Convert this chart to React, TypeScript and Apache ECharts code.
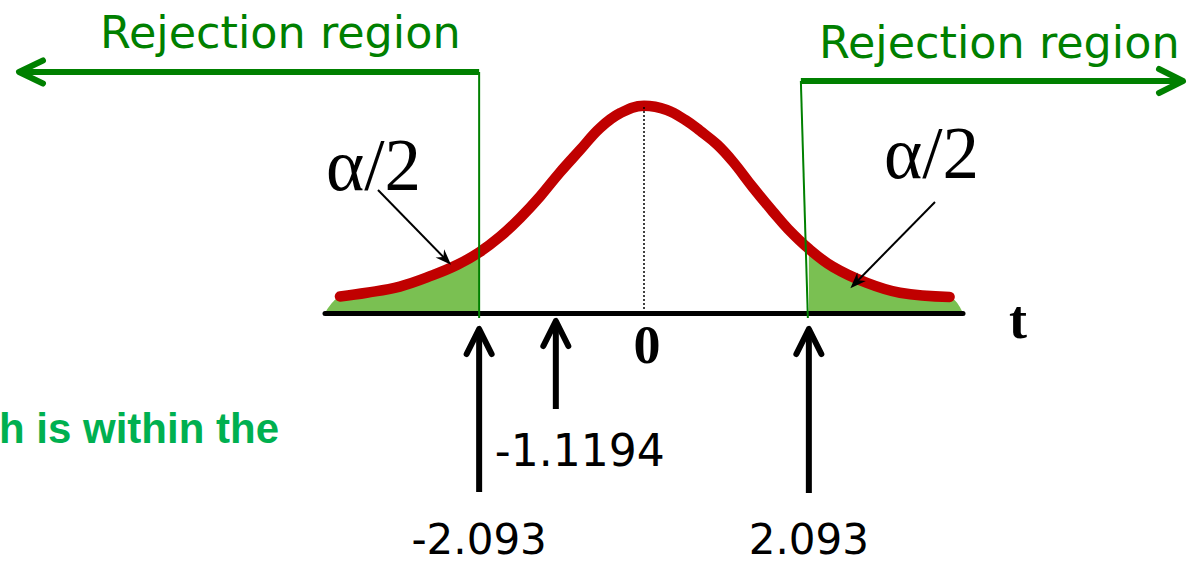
import React, { useEffect, useRef } from "react";
import * as echarts from "echarts";

// Sampled t-distribution shape (t value, density height)
const tValues = [
  -3.86, -3.52, -3.1, -2.68, -2.37, -2.093, -1.83, -1.57, -1.32, -1.07, -0.81,
  -0.56, -0.3, 0, 0.29, 0.53, 0.71, 0.93, 1.13, 1.38, 1.64, 1.83, 2.093, 2.4,
  2.83, 3.25, 3.88,
];
const density = [
  0.032, 0.039, 0.051, 0.073, 0.093, 0.117, 0.147, 0.184, 0.225, 0.271, 0.315,
  0.357, 0.386, 0.4, 0.392, 0.372, 0.352, 0.325, 0.292, 0.243, 0.195, 0.162,
  0.124, 0.089, 0.058, 0.039, 0.031,
];

const axisMin = -4.05;
const axisMax = 4.05;
const criticalValue = 2.093;
const testStatistic = -1.1194;
const criticalLabels = ["-2.093", "2.093"];
const statisticLabel = "-1.1194";
const regionLabel = "Rejection region";
const alphaLabel = "α/2";
const axisName = "t";
const centerLabel = "0";
const noteText = "h is within the";

const RED = "#C00000";
const AREA_GREEN = "#7AC052";
const LINE_GREEN = "#008000";
const NOTE_GREEN = "#00B050";

type Pt = [number, number];

function chevron(tip: Pt, dir: Pt, len: number, spread: number): Pt[] {
  const n = Math.hypot(dir[0], dir[1]);
  const ux = dir[0] / n;
  const uy = dir[1] / n;
  const bx = tip[0] - ux * len;
  const by = tip[1] - uy * len;
  const px = -uy;
  const py = ux;
  return [
    [bx + px * spread, by + py * spread],
    tip,
    [bx - px * spread, by - py * spread],
  ];
}

function line(x1: number, y1: number, x2: number, y2: number, stroke: string, lineWidth: number, cap = "round") {
  return {
    type: "line",
    z: 10,
    silent: true,
    shape: { x1, y1, x2, y2 },
    style: { stroke, lineWidth, lineCap: cap },
  };
}

function polyline(points: Pt[], stroke: string, lineWidth: number) {
  return {
    type: "polyline",
    z: 10,
    silent: true,
    shape: { points },
    style: { stroke, lineWidth, fill: null, lineCap: "round", lineJoin: "round" },
  };
}

function text(
  str: string,
  x: number,
  y: number,
  fontSize: number,
  fontFamily: string,
  fill: string,
  align = "left",
  fontWeight = "normal"
) {
  return {
    type: "text",
    z: 10,
    silent: true,
    x,
    y,
    style: {
      text: str,
      fontSize,
      fontFamily,
      fontWeight,
      fill,
      align,
      verticalAlign: "middle",
    },
  };
}

// Thin pointer with a sharp filled head
function pointer(from: Pt, to: Pt) {
  const dir: Pt = [to[0] - from[0], to[1] - from[1]];
  const n = Math.hypot(dir[0], dir[1]);
  const ux = dir[0] / n;
  const uy = dir[1] / n;
  const px = -uy;
  const py = ux;
  const len = 16;
  const half = 6;
  const notch = 11;
  const head: Pt[] = [
    to,
    [to[0] - ux * len + px * half, to[1] - uy * len + py * half],
    [to[0] - ux * notch, to[1] - uy * notch],
    [to[0] - ux * len - px * half, to[1] - uy * len - py * half],
  ];
  return [
    line(from[0], from[1], to[0] - ux * 8, to[1] - uy * 8, "#000", 2, "butt"),
    { type: "polygon", z: 10, silent: true, shape: { points: head }, style: { fill: "#000" } },
  ];
}

export default function App() {
  const ref = useRef<HTMLDivElement>(null);

  useEffect(() => {
    if (!ref.current) return;
    const chart = echarts.init(ref.current, null, { renderer: "svg" });

    const curve = tValues.map((t, i) => [t, density[i]]);
    const leftTail = [[axisMin, 0], ...curve.filter((p) => p[0] <= -criticalValue)];
    const rightTail = [...curve.filter((p) => p[0] >= criticalValue), [axisMax, 0]];

    chart.setOption({
      animation: false,
      backgroundColor: "#fff",
      grid: { left: 325, right: 239, top: 54, bottom: 249 },
      xAxis: {
        type: "value",
        min: axisMin,
        max: axisMax,
        z: 5,
        axisLine: { show: true, onZero: false, lineStyle: { color: "#000", width: 5 } },
        axisTick: { show: false },
        axisLabel: { show: false },
        splitLine: { show: false },
      },
      yAxis: {
        type: "value",
        min: 0,
        max: 0.5,
        show: false,
        splitLine: { show: false },
      },
      series: [
        {
          type: "line",
          data: leftTail,
          smooth: 0.4,
          symbol: "none",
          lineStyle: { width: 0 },
          areaStyle: { color: AREA_GREEN, opacity: 1 },
          z: 2,
        },
        {
          type: "line",
          data: rightTail,
          smooth: 0.4,
          symbol: "none",
          lineStyle: { width: 0 },
          areaStyle: { color: AREA_GREEN, opacity: 1 },
          z: 2,
        },
        {
          type: "line",
          data: curve,
          smooth: 0.4,
          symbol: "none",
          lineStyle: { color: RED, width: 10.5, cap: "round", join: "round" },
          z: 4,
          markLine: {
            silent: true,
            symbol: "none",
            label: { show: false },
            lineStyle: { color: "#000", type: [2, 2], width: 1.5 },
            data: [[{ coord: [0, 0] }, { coord: [0, 0.4] }]],
          },
        },
      ],
    });

    const toPx = (t: number, v = 0): Pt => chart.convertToPixel({ gridIndex: 0 }, [t, v]) as Pt;

    const axisY = toPx(0, 0)[1];
    const leftX = toPx(-criticalValue)[0];
    const rightX = toPx(criticalValue)[0];
    const statX = toPx(testStatistic)[0];
    const zeroX = toPx(0)[0];
    const axisEndX = toPx(axisMax)[0];

    const leftArrowY = 72;
    const rightArrowY = 81;

    const graphics: any[] = [];

    // Rejection region brackets
    graphics.push(line(leftX, leftArrowY, leftX, axisY + 5, LINE_GREEN, 2, "butt"));
    graphics.push(line(23, leftArrowY, leftX, leftArrowY, LINE_GREEN, 6, "butt"));
    graphics.push(polyline(chevron([19, leftArrowY], [-1, 0], 24, 11.5), LINE_GREEN, 6));
    graphics.push(line(rightX - 8, rightArrowY, rightX - 1, axisY + 5, LINE_GREEN, 2, "butt"));
    graphics.push(line(rightX - 8, rightArrowY, 1179, rightArrowY, LINE_GREEN, 6, "butt"));
    graphics.push(polyline(chevron([1183, rightArrowY], [1, 0], 24, 12), LINE_GREEN, 6));
    graphics.push(text(regionLabel, 100, 32, 44.5, "DejaVu Sans", LINE_GREEN));
    graphics.push(text(regionLabel, 819, 42, 44.5, "DejaVu Sans", LINE_GREEN));

    // Tail area labels with pointers
    graphics.push(text(alphaLabel, 326, 165, 73, "Liberation Serif", "#000"));
    graphics.push(text(alphaLabel, 884, 153, 73, "Liberation Serif", "#000"));
    graphics.push(...pointer([378, 190], toPx(-2.45, 0.093)));
    graphics.push(...pointer([935, 202], toPx(2.62, 0.048)));

    // Up arrows marking critical values and the test statistic
    const upArrow = (x: number, tipY: number, bottomY: number) => [
      line(x, tipY + 4, x, bottomY, "#000", 6, "butt"),
      polyline(chevron([x, tipY], [0, -1], 25, 12.5), "#000", 6),
    ];
    graphics.push(...upArrow(leftX, axisY + 16, 492));
    graphics.push(...upArrow(statX, axisY + 8, 409));
    graphics.push(...upArrow(rightX, axisY + 16, 493));

    graphics.push(text(statisticLabel, statX - 61, 450, 44, "DejaVu Sans", "#000"));
    graphics.push(text(criticalLabels[0], leftX, 539, 42, "DejaVu Sans", "#000", "center"));
    graphics.push(text(criticalLabels[1], rightX, 539, 42, "DejaVu Sans", "#000", "center"));

    // Axis captions
    graphics.push(text(centerLabel, zeroX + 3, 345, 54, "Liberation Serif", "#000", "center", "bold"));
    graphics.push(text(axisName, axisEndX + 55, 320, 54, "Liberation Serif", "#000", "center", "bold"));

    graphics.push(text(noteText, -1, 428.5, 42, "Liberation Sans", NOTE_GREEN, "left", "bold"));

    chart.setOption({ graphic: { elements: graphics } });

    return () => chart.dispose();
  }, []);

  return (
    <div
      ref={ref}
      style={{ position: "fixed", left: 0, top: 0, width: 1202, height: 562, background: "#fff" }}
    />
  );
}
